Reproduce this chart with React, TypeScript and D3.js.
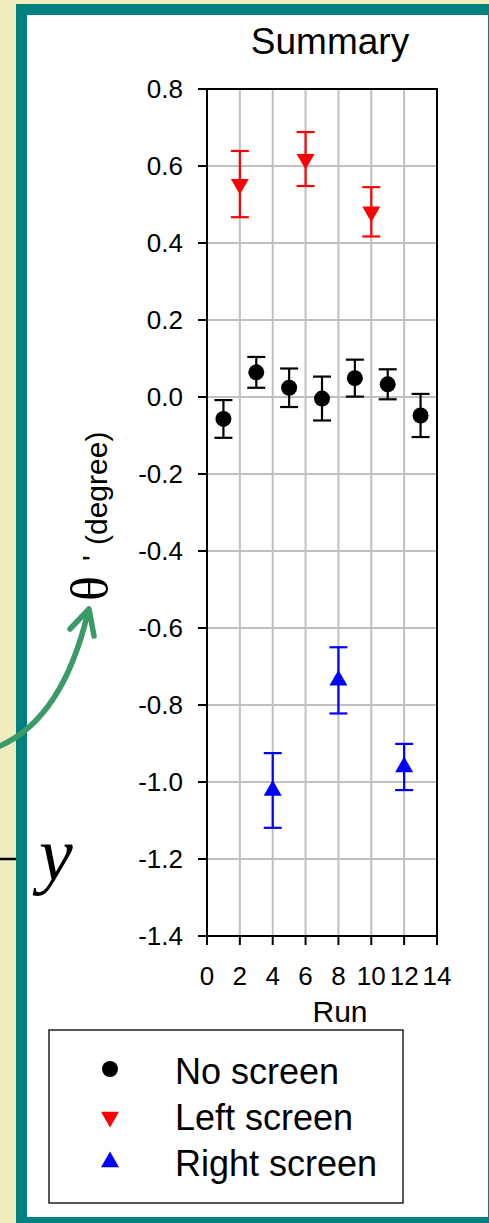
import React from "react";
import * as d3 from "d3";

const xTicks = [0, 2, 4, 6, 8, 10, 12, 14];
const yTicks = [0.8, 0.6, 0.4, 0.2, 0.0, -0.2, -0.4, -0.6, -0.8, -1.0, -1.2, -1.4];

const noScreenRuns = [1, 3, 5, 7, 9, 11, 13];
const noScreenMeans = [-0.057, 0.064, 0.024, -0.004, 0.049, 0.033, -0.048];
const noScreenErrs = [0.049, 0.04, 0.05, 0.057, 0.048, 0.039, 0.056];

const leftRuns = [2, 6, 10];
const leftMeans = [0.553, 0.618, 0.481];
const leftErrs = [0.086, 0.07, 0.064];

const rightRuns = [4, 8, 12];
const rightMeans = [-1.022, -0.736, -0.961];
const rightErrs = [0.097, 0.086, 0.06];

const legendLabels = ["No screen", "Left screen", "Right screen"];

const W = 489;
const H = 1223;
const SANS = "'Liberation Sans', Arial, sans-serif";
const SERIF = "'Liberation Serif', 'Times New Roman', serif";

export default function App() {
  const x = d3.scaleLinear().domain([0, 14]).range([207, 437]);
  const y = d3.scaleLinear().domain([-1.4, 0.8]).range([936, 89]);

  const circle = d3.symbol(d3.symbolCircle, 201)()!;
  const tri = d3.symbol(d3.symbolTriangle, 140)()!;

  const series = [
    { runs: noScreenRuns, means: noScreenMeans, errs: noScreenErrs, color: "#000000", shape: "circle" },
    { runs: leftRuns, means: leftMeans, errs: leftErrs, color: "#ff0000", shape: "down" },
    { runs: rightRuns, means: rightMeans, errs: rightErrs, color: "#0000ff", shape: "up" },
  ];

  const marker = (shape: string, color: string, cx: number, cy: number, key?: string) => {
    if (shape === "circle") return <path key={key} d={circle} transform={`translate(${cx},${cy})`} fill={color} />;
    if (shape === "down") return <path key={key} d={tri} transform={`translate(${cx},${cy}) rotate(180)`} fill={color} />;
    return <path key={key} d={tri} transform={`translate(${cx},${cy})`} fill={color} />;
  };

  const arrowPath = "M -5,748 Q 62,722 88,612";

  return (
    <svg
      width={W}
      height={H}
      style={{ position: "absolute", left: 0, top: 0, display: "block" }}
      xmlns="http://www.w3.org/2000/svg"
    >
      {/* background and frame */}
      <rect x={0} y={0} width={W} height={H} fill="#f1ecbd" />
      <rect x={16} y={4} width={W - 16} height={H - 4} fill="#008080" />
      <rect x={27} y={15} width={461} height={1202} fill="#ffffff" />

      {/* side decorations */}
      <line x1={0} x2={16} y1={859} y2={859} stroke="#000" strokeWidth={2.5} />
      <text x={39} y={880} fontFamily={SERIF} fontStyle="italic" fontSize={76} fill="#000">
        y
      </text>
      <path d={arrowPath} fill="none" stroke="#3a9a68" strokeWidth={5.5} strokeLinecap="round" />
      <polyline points="70,629 89,609 94,636" fill="none" stroke="#3a9a68" strokeWidth={5.5} strokeLinecap="round" strokeLinejoin="round" />

      {/* title */}
      <text x={330} y={54} textAnchor="middle" fontFamily={SANS} fontSize={37} fill="#000">
        Summary
      </text>

      {/* grid */}
      {xTicks.slice(1, -1).map((t) => (
        <line key={`gx${t}`} x1={x(t)} x2={x(t)} y1={y(0.8)} y2={y(-1.4)} stroke="#c0c0c0" strokeWidth={2} />
      ))}
      {yTicks.slice(1, -1).map((t) => (
        <line key={`gy${t}`} x1={x(0)} x2={x(14)} y1={y(t)} y2={y(t)} stroke="#c0c0c0" strokeWidth={2} />
      ))}

      {/* frame */}
      <rect x={x(0)} y={y(0.8)} width={x(14) - x(0)} height={y(-1.4) - y(0.8)} fill="none" stroke="#000" strokeWidth={2} />

      {/* y ticks */}
      {yTicks.map((t) => (
        <g key={`yt${t}`}>
          <line x1={x(0) - 9} x2={x(0)} y1={y(t)} y2={y(t)} stroke="#000" strokeWidth={2} />
          <text x={183} y={y(t)} dy="0.36em" textAnchor="end" fontFamily={SANS} fontSize={26} fill="#000">
            {t.toFixed(1)}
          </text>
        </g>
      ))}

      {/* x ticks */}
      {xTicks.map((t) => (
        <g key={`xt${t}`}>
          <line x1={x(t)} x2={x(t)} y1={y(-1.4)} y2={y(-1.4) + 9} stroke="#000" strokeWidth={2} />
          <text x={x(t)} y={985} textAnchor="middle" fontFamily={SANS} fontSize={26} fill="#000">
            {t}
          </text>
        </g>
      ))}

      {/* axis titles */}
      <text x={340} y={1022} textAnchor="middle" fontFamily={SANS} fontSize={30} fill="#000">
        Run
      </text>
      <g transform="translate(107,601) rotate(-90)">
        <text x={0} y={0} fontFamily={SERIF} fontSize={52} fill="#000">θ</text>
        <text x={40} y={-4} fontFamily={SANS} fontSize={30} fill="#000">'</text>
        <text x={56} y={0} fontFamily={SANS} fontSize={30} fill="#000">(degree)</text>
      </g>

      {/* data */}
      {series.map((s, si) => (
        <g key={`s${si}`}>
          {s.runs.map((r, i) => {
            const cx = x(r);
            const top = y(s.means[i] + s.errs[i]);
            const bot = y(s.means[i] - s.errs[i]);
            return (
              <g key={`e${si}-${i}`} stroke={s.color} strokeWidth={2.2}>
                <line x1={cx} x2={cx} y1={top} y2={bot} />
                <line x1={cx - 9} x2={cx + 9} y1={top} y2={top} />
                <line x1={cx - 9} x2={cx + 9} y1={bot} y2={bot} />
              </g>
            );
          })}
          {s.runs.map((r, i) => marker(s.shape, s.color, x(r), y(s.means[i]), `m${si}-${i}`))}
        </g>
      ))}

      {/* legend */}
      <rect x={49} y={1030} width={354} height={173} fill="#fff" stroke="#222" strokeWidth={1.5} />
      {series.map((s, i) => (
        <g key={`lg${i}`}>
          {marker(s.shape, s.color, 110, [1069, 1117, 1162][i])}
          <text x={175} y={1084 + i * 46} fontFamily={SANS} fontSize={36} fill="#000">
            {legendLabels[i]}
          </text>
        </g>
      ))}
    </svg>
  );
}
